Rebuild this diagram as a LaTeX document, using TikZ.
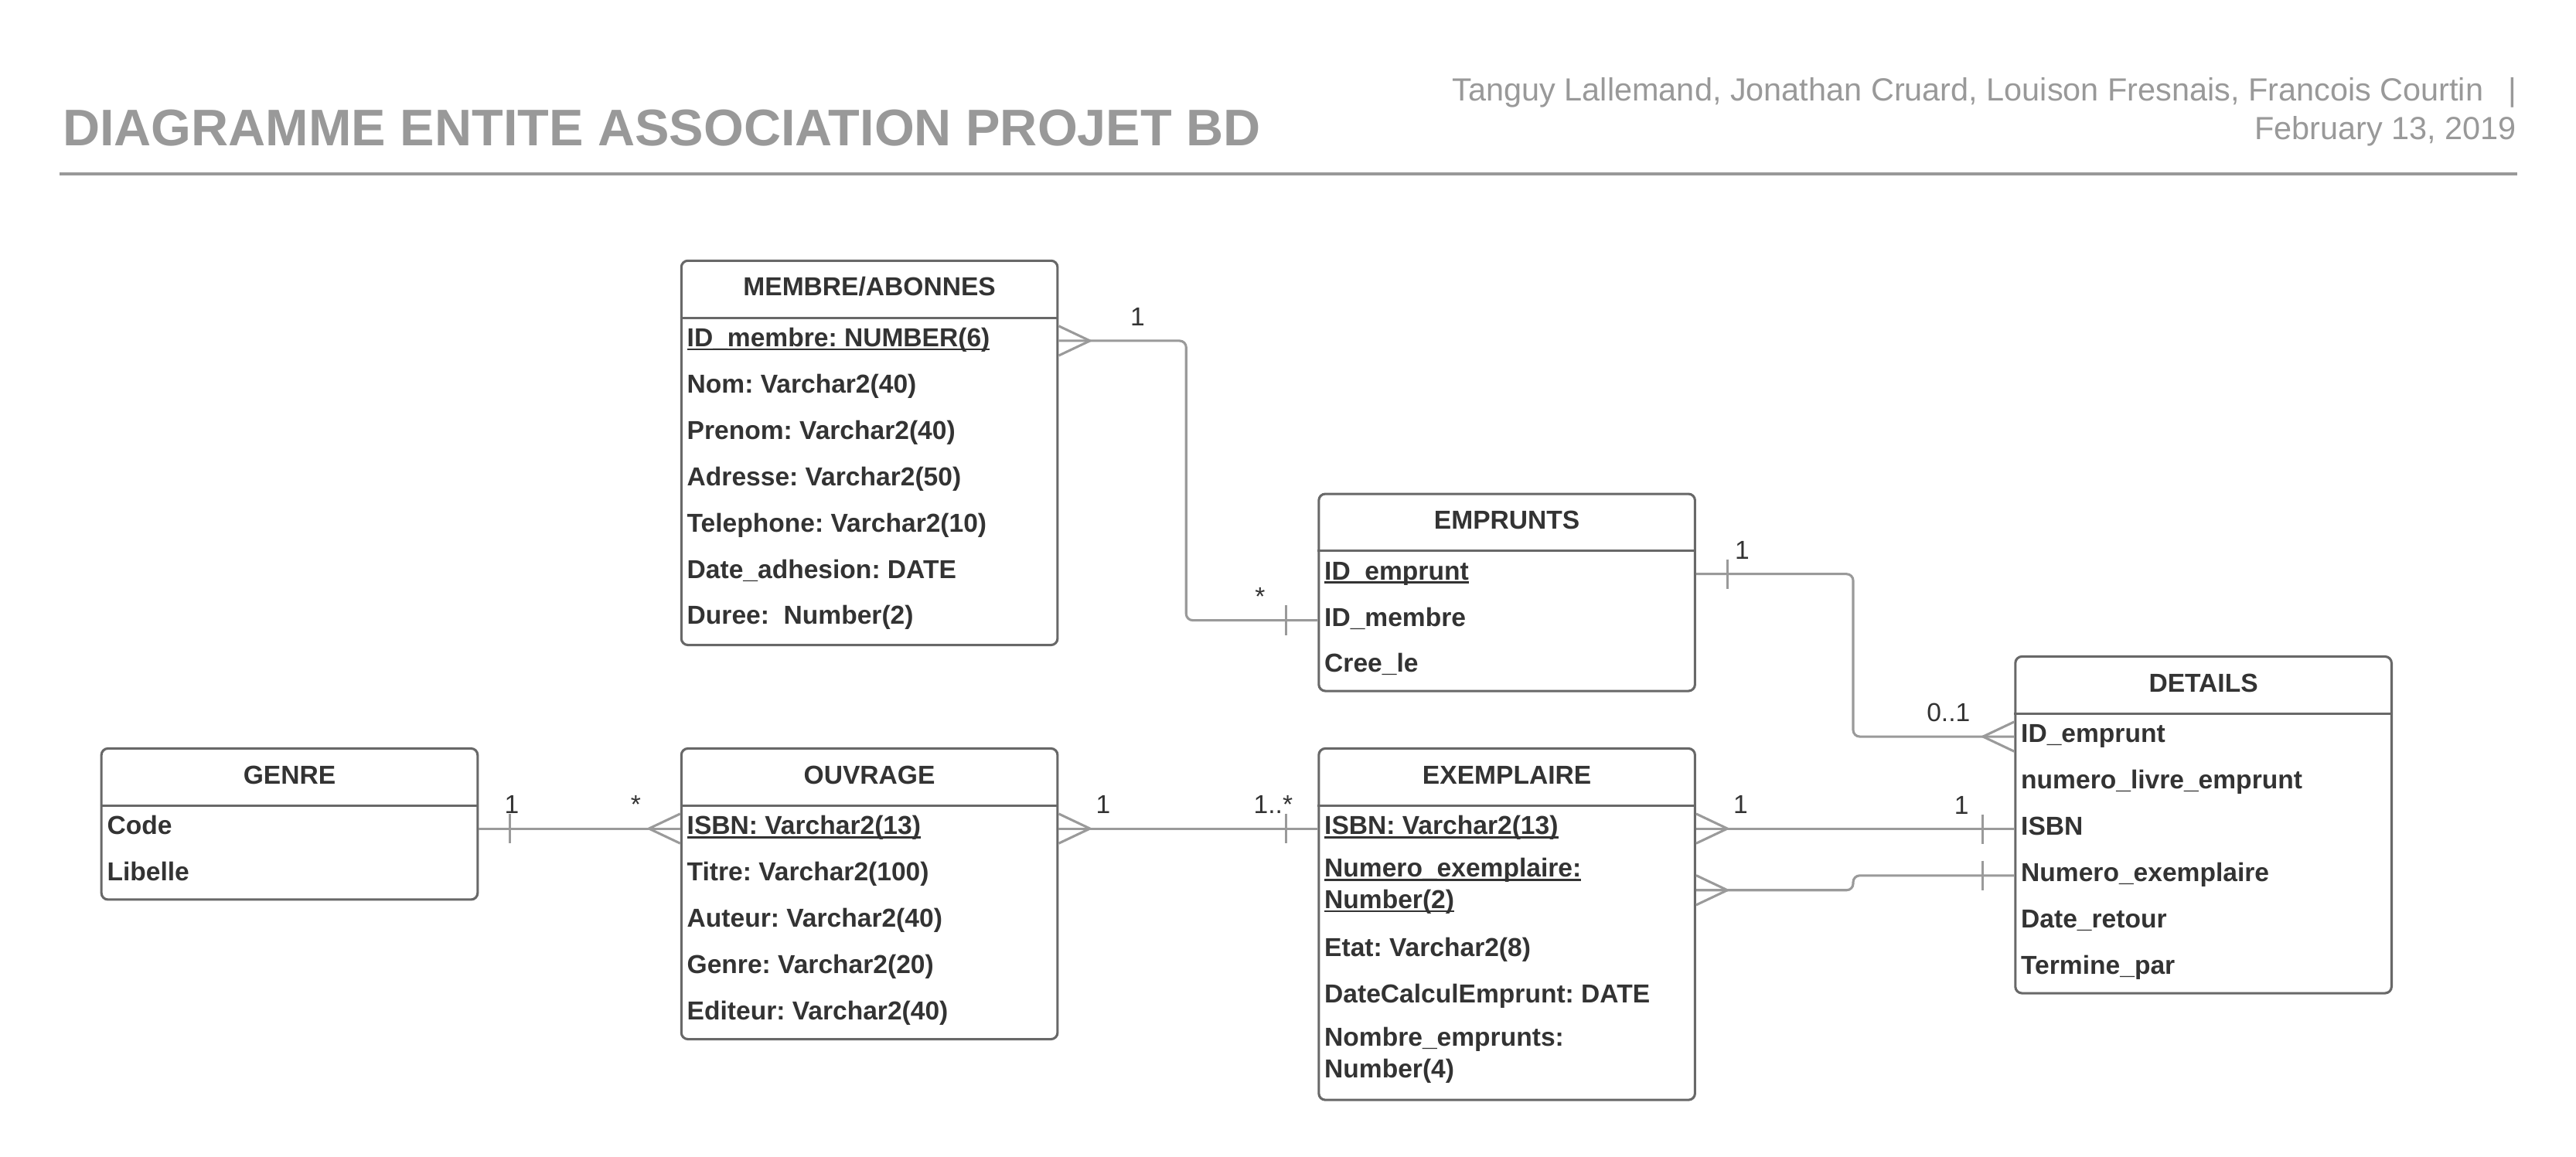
\documentclass[tikz,border=0pt]{standalone}
\usepackage{fontspec}
\setmainfont{Liberation Sans}
\usetikzlibrary{positioning}
\frenchspacing

\definecolor{titlegray}{HTML}{999999}
\definecolor{boxgray}{HTML}{686868}
\definecolor{linkgray}{HTML}{9A9A9A}
\definecolor{textdark}{HTML}{333333}

% key attributes, underlined with a heavier rule
\newcommand{\keyul}[1]{\setbox0\hbox{#1}\rlap{\rule[-2.4pt]{\wd0}{1.3pt}}\box0}

\begin{document}
\begin{tikzpicture}
[x=1pt,y=-1pt,
entity/.style={draw=boxgray,line width=1.45pt,rounded corners=4pt,fill=white,anchor=north west,inner sep=0pt,minimum width=229pt},
enttitle/.style={anchor=base,text=textdark,inner sep=0pt,font=\bfseries\fontsize{15.8}{19}\selectfont},
attr/.style={anchor=west,text=textdark,inner sep=0pt,text height=11.5pt,text depth=0.5pt,font=\bfseries\fontsize{15.8}{19}\selectfont},
attrtwo/.style={anchor=west,text=textdark,inner sep=0pt,align=left,font=\bfseries\fontsize{15.8}{19}\selectfont},
sepline/.style={draw=boxgray,line width=1.45pt},
conn/.style={draw=linkgray,line width=1.45pt},
link/.style={conn,rounded corners=4pt},
card/.style={anchor=base,text=textdark,inner sep=0pt,font=\fontsize{15.8}{19}\selectfont},
crowR/.pic={\draw[conn] (0,-9) -- (19,0) -- (0,9);},
crowL/.pic={\draw[conn] (0,-9) -- (-19,0) -- (0,9);},
barR/.pic={\draw[conn] (19,-9) -- (19,9);},
barL/.pic={\draw[conn] (-19,-9) -- (-19,9);}]
\fill[white] (0,0) rectangle (1568,704);
\useasboundingbox (0,0) rectangle (1568,704);

% header
\node[anchor=base west,text=titlegray,inner sep=0pt,font=\bfseries\fontsize{31.35}{36}\selectfont] (TITLE) at (38,88.6) {DIAGRAMME ENTITE ASSOCIATION PROJET BD};
\node[anchor=base east,text=titlegray,inner sep=0pt,font=\fontsize{19.5}{23}\selectfont] (AUTH) at (1532,61.6) {Tanguy Lallemand, Jonathan Cruard, Louison Fresnais, Francois Courtin\hspace{15pt}|};
\node[anchor=base east,text=titlegray,inner sep=0pt,font=\fontsize{19.5}{23}\selectfont] (DATE) at (1532,85) {February 13, 2019};
\draw[draw=titlegray,line width=1.8pt] (36,106) -- (1532,106);

% MEMBRE/ABONNES
\node[entity,minimum height=234pt] (MEM) at (414,158) {};
\node[enttitle] (MEM-t) at ([yshift=-22.2pt]MEM.north) {MEMBRE/ABONNES};
\draw[sepline] ([yshift=-35.5pt]MEM.north west) -- ([yshift=-35.5pt]MEM.north east);
\foreach \n/\dy/\txt in {id/47.5/\keyul{ID\_membre: NUMBER(6)},nom/75.7/Nom: Varchar2(40),pre/103.9/Prenom: Varchar2(40),adr/132.1/Adresse: Varchar2(50),tel/160.3/Telephone: Varchar2(10),dat/188.5/Date\_adhesion: DATE,dur/216.7/Duree:\ \ Number(2)}
\node[attr] (MEM-\n) at ([xshift=4pt,yshift=-\dy*1pt]MEM.north west) {\txt};

% EMPRUNTS
\node[entity,minimum height=120pt] (EMP) at (802,300) {};
\node[enttitle] (EMP-t) at ([yshift=-22.2pt]EMP.north) {EMPRUNTS};
\draw[sepline] ([yshift=-35.5pt]EMP.north west) -- ([yshift=-35.5pt]EMP.north east);
\foreach \n/\dy/\txt in {id/47.5/\keyul{ID\_emprunt},idm/75.7/ID\_membre,cre/103.9/Cree\_le}
\node[attr] (EMP-\n) at ([xshift=4pt,yshift=-\dy*1pt]EMP.north west) {\txt};

% DETAILS
\node[entity,minimum height=205pt] (DET) at (1226,399) {};
\node[enttitle] (DET-t) at ([yshift=-22.2pt]DET.north) {DETAILS};
\draw[sepline] ([yshift=-35.5pt]DET.north west) -- ([yshift=-35.5pt]DET.north east);
\foreach \n/\dy/\txt in {id/47.5/ID\_emprunt,liv/75.7/numero\_livre\_emprunt,isbn/103.9/ISBN,num/132.1/Numero\_exemplaire,ret/160.3/Date\_retour,ter/188.5/Termine\_par}
\node[attr] (DET-\n) at ([xshift=4pt,yshift=-\dy*1pt]DET.north west) {\txt};

% GENRE
\node[entity,minimum height=92pt] (GEN) at (61,455) {};
\node[enttitle] (GEN-t) at ([yshift=-22.2pt]GEN.north) {GENRE};
\draw[sepline] ([yshift=-35.5pt]GEN.north west) -- ([yshift=-35.5pt]GEN.north east);
\foreach \n/\dy/\txt in {code/47.5/Code,lib/75.7/Libelle}
\node[attr] (GEN-\n) at ([xshift=4pt,yshift=-\dy*1pt]GEN.north west) {\txt};

% OUVRAGE
\node[entity,minimum height=177pt] (OUV) at (414,455) {};
\node[enttitle] (OUV-t) at ([yshift=-22.2pt]OUV.north) {OUVRAGE};
\draw[sepline] ([yshift=-35.5pt]OUV.north west) -- ([yshift=-35.5pt]OUV.north east);
\foreach \n/\dy/\txt in {isbn/47.5/\keyul{ISBN: Varchar2(13)},tit/75.7/Titre: Varchar2(100),aut/103.9/Auteur: Varchar2(40),gen/132.1/Genre: Varchar2(20),edi/160.3/Editeur: Varchar2(40)}
\node[attr] (OUV-\n) at ([xshift=4pt,yshift=-\dy*1pt]OUV.north west) {\txt};

% EXEMPLAIRE
\node[entity,minimum height=214pt] (EXE) at (802,455) {};
\node[enttitle] (EXE-t) at ([yshift=-22.2pt]EXE.north) {EXEMPLAIRE};
\draw[sepline] ([yshift=-35.5pt]EXE.north west) -- ([yshift=-35.5pt]EXE.north east);
\foreach \n/\dy/\txt in {isbn/47.5/\keyul{ISBN: Varchar2(13)},eta/122/Etat: Varchar2(8),dcal/150/DateCalculEmprunt: DATE}
\node[attr] (EXE-\n) at ([xshift=4pt,yshift=-\dy*1pt]EXE.north west) {\txt};
\node[attrtwo] (EXE-num) at ([xshift=4pt,yshift=-84.5pt]EXE.north west) {\keyul{Numero\_exemplaire:}\\\keyul{Number(2)}};
\node[attrtwo] (EXE-nbr) at ([xshift=4pt,yshift=-187.5pt]EXE.north west) {Nombre\_emprunts:\\Number(4)};

% end points of the links
\path (MEM.east |- MEM-id) ++(0,2) coordinate (m1);
\path (EMP.west |- EMP-idm) ++(0,2) coordinate (e1);
\path (EMP.east |- EMP-id) ++(0,2) coordinate (e2);
\path (DET.west |- DET-id) ++(0,2) coordinate (d1);
\path (GEN.east |- GEN-code) ++(0,2) coordinate (g1);
\path (OUV.west |- OUV-isbn) ++(0,2) coordinate (o1);
\path (OUV.east |- OUV-isbn) ++(0,2) coordinate (o2);
\path (EXE.west |- EXE-isbn) ++(0,2) coordinate (x1);
\path (EXE.east |- EXE-isbn) ++(0,2) coordinate (x2);
\path (DET.west |- DET-isbn) ++(0,2) coordinate (d2);
\path (EXE.east |- EXE-num) ++(0,2.5) coordinate (x3);
\path (DET.west |- DET-num) ++(0,2) coordinate (d3);
\coordinate (j1) at (722,0);
\coordinate (j2) at (1128,0);

% links
\draw[link] (m1) -- (m1 -| j1) -- (j1 |- e1) -- (e1);
\pic at (m1) {crowR};
\pic at (e1) {barL};
\node[card] (c1a) at ([shift={(48,-9)}]m1) {1};
\node[card] (c1b) at ([shift={(-35,-9)}]e1) {*};

\draw[link] (e2) -- (e2 -| j2) -- (j2 |- d1) -- (d1);
\pic at (e2) {barR};
\pic at (d1) {crowL};
\node[card] (c2a) at ([shift={(28,-9)}]e2) {1};
\node[card] (c2b) at ([shift={(-40,-9)}]d1) {0..1};

\draw[link] (g1) -- (o1);
\pic at (g1) {barR};
\pic at (o1) {crowL};
\node[card] (c3a) at ([shift={(20,-9)}]g1) {1};
\node[card] (c3b) at ([shift={(-27,-9)}]o1) {*};

\draw[link] (o2) -- (x1);
\pic at (o2) {crowR};
\pic at (x1) {barL};
\node[card] (c4a) at ([shift={(27,-9)}]o2) {1};
\node[card] (c4b) at ([shift={(-27,-9)}]x1) {1..*};

\draw[conn] (x2) -- (x2 -| j2) -- (j2 |- d2) -- (d2);
\pic at (x2) {crowR};
\pic at (d2) {barL};
\node[card] (c5a) at ([shift={(27,-9)}]x2) {1};
\node[card] (c5b) at ([shift={(-32,-9)}]d2) {1};

\draw[link] (x3) -- (x3 -| j2) -- (j2 |- d3) -- (d3);
\pic at (x3) {crowR};
\pic at (d3) {barL};
\end{tikzpicture}
\end{document}
